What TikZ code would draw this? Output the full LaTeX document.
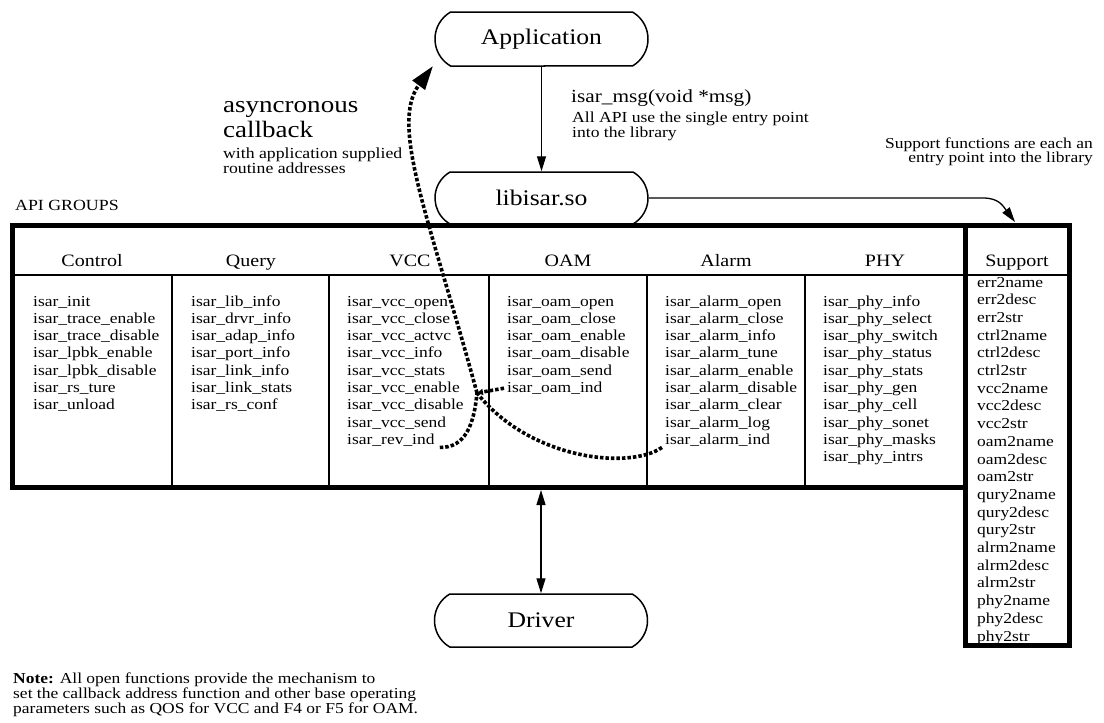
\documentclass[tikz,border=0pt]{standalone}
\usepackage{fontspec}
\setmainfont{Liberation Serif}[FakeStretch=1.15]
\usetikzlibrary{shapes.misc,arrows.meta}
\newcommand\fsz[2]{\fontsize{#1}{#2}\selectfont}
\newcommand\fnlist[5]{% name prefix, x, first baseline, spacing, items
  \foreach \t [count=\i] in {#5}
    \node[fn] (#1\i) at (#2,{#3+(\i-1)*#4}) {\t};}
\begin{document}
\begin{tikzpicture}[x=1pt,y=-1pt,
  term/.style={draw,line width=1.5pt,rounded rectangle,
    rounded rectangle arc length=120,minimum width=213pt,
    minimum height=54pt,inner sep=0pt,font=\fsz{22.3}{24}},
  fn/.style={anchor=base west,inner sep=0pt,font=\fsz{15.2}{17}},
  hdr/.style={anchor=base,inner sep=0pt,font=\fsz{17.4}{20}},
  lbl/.style={anchor=base west,inner sep=0pt},
  arr/.style={line width=1.3pt,-{Triangle[length=15pt,width=9pt]}},
  darr/.style={line width=1.3pt,{Triangle[length=15pt,width=9pt]}-{Triangle[length=15pt,width=9pt]}},
  cb/.style={line width=3.6pt,dash pattern=on 3.5pt off 2pt},
  heavy/.style={line width=5pt},
  thinline/.style={line width=1.6pt}]
\useasboundingbox (0,0) rectangle (1104,723);

% terminal nodes
\node[term] (app) at (541.5,39) {Application};
\node[term,minimum height=52pt] (lib) at (541.5,198) {libisar.so};
\node[term,minimum height=53pt] (drv) at (541,620.5) {Driver};

% labels
\node[lbl,font=\fsz{23.5}{25}] (async1) at (223,112) {asyncronous};
\node[lbl,font=\fsz{23.5}{25}] (async2) at (223,137) {callback};
\node[lbl,font=\fsz{15.4}{15}] (async3) at (223,158) {with application supplied};
\node[lbl,font=\fsz{15.4}{15}] (async4) at (223,173) {routine addresses};

\node[lbl,font=\fsz{18.5}{20}] (msg1) at (571,102) {isar\_msg(void *msg)};
\node[lbl,font=\fsz{15.3}{15}] (msg2) at (572,122) {All API use the single entry point};
\node[lbl,font=\fsz{15.3}{15}] (msg3) at (572,137) {into the library};

\node[anchor=base east,inner sep=0pt,font=\fsz{15.2}{14}] (sc1) at (1093,148) {Support functions are each an};
\node[anchor=base east,inner sep=0pt,font=\fsz{15.2}{14}] (sc2) at (1093,162) {entry point into the library};

\node[lbl,font=\fsz{15.5}{16}] (apig) at (15,210) {API GROUPS};

\node[anchor=north west,inner sep=0pt,align=left,font=\fsz{15.2}{13.5}] (note) at (13,673)
  {\textbf{Note:} All open functions provide the mechanism to\\
   set the callback address function and other base operating\\
   parameters such as QOS for VCC and F4 or F5 for OAM.};

% boxes
\draw[heavy] (12.5,225) rectangle (965,487.5);
\draw[heavy] (965,225) rectangle (1069.5,645.5);
\draw[thinline] (12.5,275) -- (1069.5,275);
\foreach \x in {172,329,489,647,805} \draw[thinline] (\x,275) -- (\x,487.5);

% headers
\node[hdr] (hc) at (92,266) {Control};
\node[hdr] (hq) at (251,266) {Query};
\node[hdr] (hv) at (410,266) {VCC};
\node[hdr] (ho) at (568,266) {OAM};
\node[hdr] (ha) at (726,266) {Alarm};
\node[hdr] (hp) at (885,266) {PHY};
\node[hdr] (hs) at (1017,266) {Support};

% function lists
\fnlist{c}{33}{306}{17.3}{isar\_init,isar\_trace\_enable,isar\_trace\_disable,isar\_lpbk\_enable,isar\_lpbk\_disable,isar\_rs\_ture,isar\_unload}
\fnlist{q}{191}{306}{17.3}{isar\_lib\_info,isar\_drvr\_info,isar\_adap\_info,isar\_port\_info,isar\_link\_info,isar\_link\_stats,isar\_rs\_conf}
\fnlist{v}{347}{306}{17.3}{isar\_vcc\_open,isar\_vcc\_close,isar\_vcc\_actvc,isar\_vcc\_info,isar\_vcc\_stats,isar\_vcc\_enable,isar\_vcc\_disable,isar\_vcc\_send,isar\_rev\_ind}
\fnlist{o}{507}{306}{17.3}{isar\_oam\_open,isar\_oam\_close,isar\_oam\_enable,isar\_oam\_disable,isar\_oam\_send,isar\_oam\_ind}
\fnlist{a}{665}{306}{17.3}{isar\_alarm\_open,isar\_alarm\_close,isar\_alarm\_info,isar\_alarm\_tune,isar\_alarm\_enable,isar\_alarm\_disable,isar\_alarm\_clear,isar\_alarm\_log,isar\_alarm\_ind}
\fnlist{p}{823}{306}{17.3}{isar\_phy\_info,isar\_phy\_select,isar\_phy\_switch,isar\_phy\_status,isar\_phy\_stats,isar\_phy\_gen,isar\_phy\_cell,isar\_phy\_sonet,isar\_phy\_masks,isar\_phy\_intrs}
\fnlist{s}{977}{287}{17.7}{err2name,err2desc,err2str,ctrl2name,ctrl2desc,ctrl2str,vcc2name,vcc2desc,vcc2str,oam2name,oam2desc,oam2str,qury2name,qury2desc,qury2str,alrm2name,alrm2desc,alrm2str,phy2name,phy2desc,phy2str}

% connectors
\draw[arr] (app.south) -- (lib.north);
\coordinate (suptip) at (1015,222);
\draw[arr] (lib.east) -- (983,198) .. controls (999,198) and (1003,206) .. (suptip);
\coordinate (boxbot) at (541,490);
\draw[darr] (boxbot) -- (drv.north);

% callback (dotted)
\coordinate (J) at (477,393);
\coordinate (cbtip) at (433,66);
\coordinate (revend) at ([xshift=5pt,yshift=-3pt]v9.base east);
\coordinate (alend) at ([xshift=-3pt,yshift=-3pt]a9.base west);
\coordinate (oamend) at ([xshift=-3pt]o6.west);
\draw[cb] (revend) .. controls (465,448) and (474,425) .. (J);
\draw[cb] (alend) .. controls (630,470) and (530,460) .. (J);
\draw[cb,-{Triangle[length=6pt,width=6pt]}] (oamend) -- (J);
\draw[cb,-{Triangle[length=24pt,width=15pt]}] (J) .. controls (430,220) and (389,125) .. (cbtip);
\end{tikzpicture}
\end{document}
